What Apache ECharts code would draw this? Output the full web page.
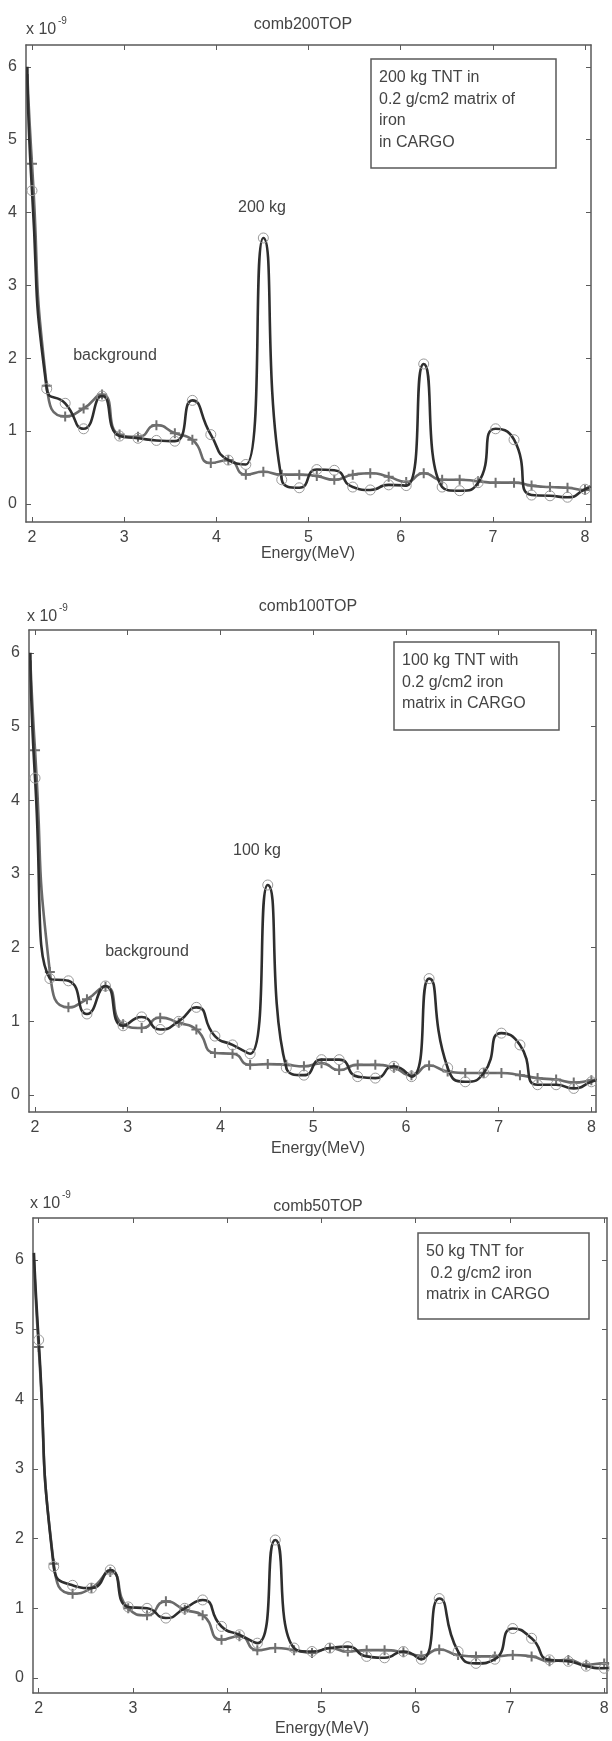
<!DOCTYPE html>
<html>
<head>
<meta charset="utf-8">
<script src="https://cdn.jsdelivr.net/npm/echarts@6/dist/echarts.min.js"></script>
<style>
  html, body { margin: 0; padding: 0; background: #fff; }
  #chart { width: 612px; height: 1741px; }
</style>
</head>
<body>
<div id="chart"></div>
<script>
// Gamma-ray energy bins (MeV) shared by all three spectra
const energies = [1.95, 2.0, 2.16, 2.36, 2.56, 2.76, 2.95, 3.15, 3.35, 3.55, 3.74, 3.94, 4.13, 4.32, 4.51, 4.71, 4.9,
  5.09, 5.28, 5.48, 5.67, 5.87, 6.06, 6.25, 6.45, 6.64, 6.84, 7.03, 7.23, 7.42, 7.62, 7.81, 8.0, 8.06];

// Counts (x 1e-9), TNT + cargo and cargo background
const tnt200 = [6.0, 4.3, 1.58, 1.38, 1.03, 1.48, 0.93, 0.9, 0.87, 0.86, 1.42, 0.95, 0.6, 0.54, 3.65, 0.33, 0.22,
  0.47, 0.46, 0.23, 0.19, 0.26, 0.25, 1.92, 0.23, 0.18, 0.29, 1.03, 0.88, 0.12, 0.11, 0.09, 0.2, 0.24];
const bg200 = [5.9, 4.67, 1.62, 1.2, 1.31, 1.5, 0.95, 0.92, 1.08, 0.97, 0.88, 0.56, 0.6, 0.4, 0.44, 0.4, 0.4,
  0.38, 0.33, 0.4, 0.42, 0.37, 0.3, 0.42, 0.33, 0.33, 0.31, 0.29, 0.29, 0.25, 0.23, 0.22, 0.19, 0.2];

const tnt100 = [6.0, 4.3, 1.58, 1.55, 1.1, 1.48, 0.94, 1.06, 0.89, 1.0, 1.19, 0.8, 0.68, 0.56, 2.85, 0.37, 0.27,
  0.48, 0.48, 0.25, 0.23, 0.39, 0.25, 1.58, 0.37, 0.18, 0.3, 0.84, 0.68, 0.14, 0.14, 0.09, 0.18, 0.2];
const bg100 = [5.9, 4.68, 1.67, 1.19, 1.3, 1.47, 0.96, 0.91, 1.05, 0.98, 0.89, 0.57, 0.56, 0.41, 0.42, 0.41, 0.39,
  0.43, 0.34, 0.41, 0.41, 0.37, 0.27, 0.4, 0.32, 0.3, 0.3, 0.3, 0.27, 0.23, 0.21, 0.17, 0.2, 0.21];

const tnt50 = [6.1, 4.85, 1.6, 1.33, 1.29, 1.55, 1.02, 1.0, 0.86, 1.0, 1.12, 0.74, 0.62, 0.5, 1.98, 0.43, 0.38,
  0.43, 0.45, 0.31, 0.29, 0.38, 0.27, 1.14, 0.38, 0.21, 0.27, 0.71, 0.57, 0.26, 0.24, 0.17, 0.14, 0.15];
const bg50 = [6.0, 4.75, 1.64, 1.21, 1.29, 1.52, 1.0, 0.9, 1.1, 0.98, 0.9, 0.55, 0.6, 0.4, 0.43, 0.4, 0.36,
  0.43, 0.38, 0.4, 0.4, 0.37, 0.32, 0.41, 0.33, 0.31, 0.31, 0.33, 0.31, 0.24, 0.26, 0.19, 0.21, 0.21];

const xTicks = [2, 3, 4, 5, 6, 7, 8];
const yTicks = [0, 1, 2, 3, 4, 5, 6];

const titles = ['comb200TOP', 'comb100TOP', 'comb50TOP'];
const notes = [
  ['200 kg TNT in', '0.2 g/cm2 matrix of', 'iron', 'in CARGO'],
  ['100 kg TNT with', '0.2 g/cm2 iron', 'matrix in CARGO'],
  ['50 kg TNT for', ' 0.2 g/cm2 iron', 'matrix in CARGO']
];
const xName = 'Energy(MeV)';

// Panel geometry
const panels = [
  { tnt: tnt200, bg: bg200, grid: { left: 26, top: 45, width: 565, height: 477 },
    x: [1.935, 8.065], y: [-0.25, 6.3],
    title: [303, 25], mult: [26, 30], box: [371, 59, 185, 109], xLab: [308, 554],
    marks: [['200 kg', 262, 208], ['background', 115, 356]] },
  { tnt: tnt100, bg: bg100, grid: { left: 29, top: 630, width: 567, height: 482 },
    x: [1.935, 8.05], y: [-0.23, 6.31],
    title: [308, 607], mult: [27, 617], box: [394, 642, 165, 88], xLab: [318, 1149],
    marks: [['100 kg', 257, 851], ['background', 147, 952]] },
  { tnt: tnt50, bg: bg50, grid: { left: 33, top: 1218, width: 574, height: 475 },
    x: [1.94, 8.03], y: [-0.215, 6.6],
    title: [318, 1207], mult: [30, 1204], box: [418, 1233, 171, 86], xLab: [322, 1729],
    marks: [] }
];

const FONT = '"Liberation Sans", Arial, sans-serif';
const TXT = '#444';
const FRAME = '#5a5a5a';
const plusPath = 'path://M4,0 L6,0 L6,4 L10,4 L10,6 L6,6 L6,10 L4,10 L4,6 L0,6 L0,4 L4,4 Z';

const grids = [], xAxes = [], yAxes = [], series = [], graphics = [];

function pts(vals) {
  const last = energies.length - 1;
  return energies.map((e, i) => {
    const item = { value: [e, vals[i]] };
    if (i === 0 || i === last) item.symbol = 'none';
    return item;
  });
}

panels.forEach((p, gi) => {
  grids.push(Object.assign({ containLabel: false }, p.grid));
  const line = { onZero: false, lineStyle: { color: FRAME, width: 1.5 } };
  const tick = (vals) => ({ inside: true, length: 5, customValues: vals, lineStyle: { color: FRAME, width: 1 } });
  xAxes.push({ gridIndex: gi, type: 'value', position: 'bottom', min: p.x[0], max: p.x[1],
    axisLine: line, axisTick: tick(xTicks), splitLine: { show: false },
    axisLabel: { customValues: xTicks, color: TXT, fontSize: 16, fontFamily: FONT, margin: 8 } });
  xAxes.push({ gridIndex: gi, type: 'value', position: 'top', min: p.x[0], max: p.x[1],
    axisLine: line, axisTick: tick(xTicks), splitLine: { show: false }, axisLabel: { show: false } });
  yAxes.push({ gridIndex: gi, type: 'value', position: 'left', min: p.y[0], max: p.y[1],
    axisLine: line, axisTick: tick(yTicks), splitLine: { show: false },
    axisLabel: { customValues: yTicks, color: TXT, fontSize: 16, fontFamily: FONT, margin: 9 } });
  yAxes.push({ gridIndex: gi, type: 'value', position: 'right', min: p.y[0], max: p.y[1],
    axisLine: line, axisTick: tick(yTicks), splitLine: { show: false }, axisLabel: { show: false } });

  // background spectrum: grey line with plus markers
  series.push({ type: 'line', name: 'background', xAxisIndex: gi * 2, yAxisIndex: gi * 2,
    data: pts(p.bg), smooth: 0.6, symbol: plusPath, symbolSize: 10,
    lineStyle: { color: '#6a6a6a', width: 2.6 }, itemStyle: { color: '#707070' }, z: 2 });
  // TNT + background spectrum: dark line with open circles
  series.push({ type: 'line', name: 'TNT', xAxisIndex: gi * 2, yAxisIndex: gi * 2,
    data: pts(p.tnt), smooth: 0.6, symbol: 'circle', symbolSize: 10,
    lineStyle: { color: '#2e2e2e', width: 2.6 },
    itemStyle: { color: 'rgba(0,0,0,0)', borderColor: '#9a9a9a', borderWidth: 1 }, z: 3 });

  graphics.push({ type: 'text', x: p.title[0], y: p.title[1], z: 10,
    style: { text: titles[gi], font: '16px ' + FONT, fill: TXT, align: 'center', verticalAlign: 'middle' } });
  graphics.push({ type: 'text', x: p.mult[0], y: p.mult[1], z: 10,
    style: { text: 'x 10', font: '16px ' + FONT, fill: TXT, align: 'left', verticalAlign: 'middle' } });
  graphics.push({ type: 'text', x: p.mult[0] + 32, y: p.mult[1] - 9, z: 10,
    style: { text: '-9', font: '10px ' + FONT, fill: TXT, align: 'left', verticalAlign: 'middle' } });
  graphics.push({ type: 'text', x: p.xLab[0], y: p.xLab[1], z: 10,
    style: { text: xName, font: '16px ' + FONT, fill: TXT, align: 'center', verticalAlign: 'middle' } });
  graphics.push({ type: 'rect', z: 10,
    shape: { x: p.box[0], y: p.box[1], width: p.box[2], height: p.box[3] },
    style: { fill: '#fff', stroke: FRAME, lineWidth: 1.5 } });
  graphics.push({ type: 'text', x: p.box[0] + 8, y: p.box[1] + 8, z: 11,
    style: { text: notes[gi].join('\n'), font: '16px ' + FONT, lineHeight: 21.5, fill: TXT,
      align: 'left', verticalAlign: 'top' } });
  p.marks.forEach(m => {
    graphics.push({ type: 'text', x: m[1], y: m[2], z: 10,
      style: { text: m[0], font: '16px ' + FONT, fill: TXT, align: 'center', verticalAlign: 'middle' } });
  });
});

const chart = echarts.init(document.getElementById('chart'), null, { renderer: 'canvas' });
chart.setOption({
  animation: false,
  backgroundColor: '#fff',
  grid: grids,
  xAxis: xAxes,
  yAxis: yAxes,
  series: series,
  graphic: graphics
});
</script>
</body>
</html>
